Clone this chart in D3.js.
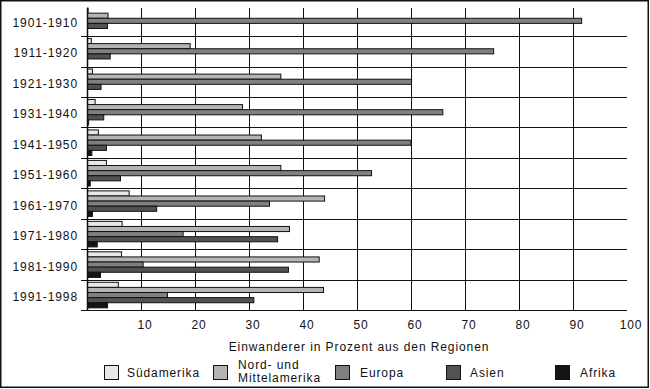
<!DOCTYPE html>
<html><head><meta charset="utf-8">
<script src="https://cdn.jsdelivr.net/npm/d3@7"></script>
<style>
body{margin:0;background:#fff;}
text{font-family:"Liberation Sans",Arial,sans-serif;font-size:12px;letter-spacing:0.9px;fill:#111;}
</style></head>
<body><svg id="c" width="650" height="389"></svg>
<script>
const categories = ["1901-1910","1911-1920","1921-1930","1931-1940","1941-1950","1951-1960","1961-1970","1971-1980","1981-1990","1991-1998"];
const seriesNames = ["Südamerika","Nord- und Mittelamerika","Europa","Asien","Afrika"];
const suedamerika = [0.2,0.8,1.0,1.5,2.1,3.6,7.8,6.5,6.4,5.8];
const nordMittel  = [3.9,19.1,35.9,28.8,32.3,35.9,44.0,37.5,43.0,43.8];
const europa      = [91.6,75.3,60.1,65.9,60.0,52.7,33.8,17.8,10.4,14.9];
const asien       = [3.8,4.3,2.6,3.1,3.6,6.2,12.9,35.3,37.3,30.9];
const afrika      = [0,0,0,0.3,0.9,0.6,1.0,1.9,2.5,3.8];
const xTicks = [10,20,30,40,50,60,70,80,90,100];
const colors = ["#e8e8e8","#b4b4b4","#808080","#525252","#141414"];

const series = [suedamerika,nordMittel,europa,asien,afrika];
const svg = d3.select("#c");

const x = d3.scaleLinear().domain([0,100]).range([87,627]);
const y = d3.scaleBand().domain(categories).range([5.6,310.3]).padding(0);
const inner = d3.scaleBand().domain(d3.range(5)).range([0,y.bandwidth()]).paddingInner(0).paddingOuter(0.48);

// frame
svg.append("rect").attr("x",0.75).attr("y",0.75).attr("width",647.5).attr("height",386.5)
  .attr("fill","none").attr("stroke","#111").attr("stroke-width",1.5);

// vertical grid
svg.append("g").selectAll("line").data(xTicks.filter(d=>d<100)).join("line")
  .attr("x1",d=>Math.round(x(d))+0.5).attr("x2",d=>Math.round(x(d))+0.5)
  .attr("y1",8).attr("y2",310.5).attr("stroke","#111").attr("stroke-width",1);

// horizontal grid at band boundaries
const bounds = categories.slice(1).map(c=>y(c)).concat([y.range()[1]]);
svg.append("g").selectAll("line").data(bounds).join("line")
  .attr("x1",81).attr("x2",627).attr("y1",d=>Math.round(d)+0.5).attr("y2",d=>Math.round(d)+0.5)
  .attr("stroke","#111").attr("stroke-width",1);

// bars
const g = svg.append("g");
categories.forEach((c,i)=>{
  series.forEach((s,j)=>{
    g.append("rect")
      .attr("x",x(0)+0.5).attr("y",y(c)+inner(j))
      .attr("width",Math.max(0,x(s[i])-x(0)-0.5)).attr("height",inner.bandwidth())
      .attr("fill",colors[j]).attr("stroke","#111").attr("stroke-width",1);
  });
});

// y axis line
svg.append("line").attr("x1",87.5).attr("x2",87.5).attr("y1",8).attr("y2",311).attr("stroke","#111").attr("stroke-width",1.5);

// category labels
svg.append("g").selectAll("text").data(categories).join("text")
  .attr("x",78).attr("y",d=>y(d)+y.bandwidth()/2+6).attr("text-anchor","end").text(d=>d);

// x tick labels
svg.append("g").selectAll("text").data(xTicks).join("text")
  .attr("x",d=>x(d)+4).attr("y",328.5).attr("text-anchor","middle").text(d=>d);

// axis title
svg.append("text").attr("x",359).attr("y",351).attr("text-anchor","middle").text("Einwanderer in Prozent aus den Regionen");

// legend
const legX = [104,213,335,446,555];
const txtX = [127,238,360,470,580];
seriesNames.forEach((n,j)=>{
  svg.append("rect").attr("x",legX[j]+0.5).attr("y",365.5).attr("width",14).attr("height",14)
    .attr("fill",colors[j]).attr("stroke","#111").attr("stroke-width",1);
  if(j===1){
    svg.append("text").attr("x",txtX[j]).attr("y",369).attr("font-size","10.5px").attr("letter-spacing","0.7px").text("Nord- und");
    svg.append("text").attr("x",txtX[j]).attr("y",382).attr("font-size","10.5px").attr("letter-spacing","0.7px").text("Mittelamerika");
  } else {
    svg.append("text").attr("x",txtX[j]).attr("y",376.5).attr("letter-spacing","0.6px").text(n);
  }
});
</script></body></html>
